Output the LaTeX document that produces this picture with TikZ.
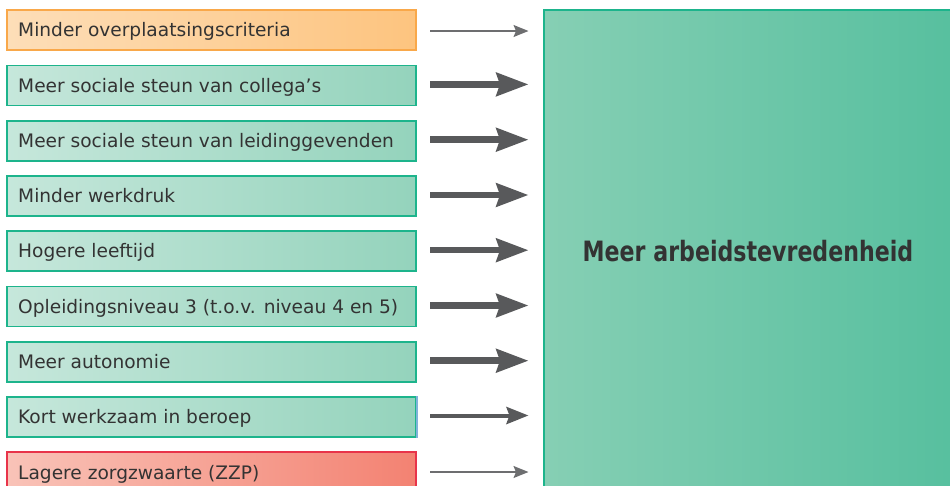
\documentclass[tikz,border=0pt]{standalone}
\usepackage{fontspec}
\setmainfont{DejaVu Sans}
\newfontfamily\bigfont{DejaVu Sans}[FakeStretch=0.79]
\usetikzlibrary{arrows.meta}
\definecolor{txt}{HTML}{333333}
\definecolor{grnL}{HTML}{C6E7DB}
\definecolor{grnR}{HTML}{94D3BC}
\definecolor{grnB}{HTML}{1DB48C}
\definecolor{orgL}{HTML}{FDDEB8}
\definecolor{orgR}{HTML}{FDC47F}
\definecolor{orgB}{HTML}{F9A84A}
\definecolor{redL}{HTML}{F9C3B8}
\definecolor{redR}{HTML}{F38272}
\definecolor{redB}{HTML}{E8344A}
\definecolor{bigL}{HTML}{86CFB4}
\definecolor{bigR}{HTML}{56BF9E}
\definecolor{bluB}{HTML}{80B2D9}
\definecolor{arrD}{HTML}{58595B}
\definecolor{arrT}{HTML}{6D6E70}
\tikzset{
  factor/.style={draw=grnB, line width=1.8pt, left color=grnL, right color=grnR, minimum width=409pt, minimum height=40pt, anchor=north west, inner sep=0pt},
  lbl/.style={anchor=base west, text=txt, font=\fontsize{18.6}{22}\selectfont, inner sep=0pt},
  thinarr/.style={draw=arrT, line width=1.4pt, -{Stealth[length=15pt,width=12pt,inset=2.5pt]}},
  medarr/.style={draw=arrD, line width=4pt, -{Stealth[length=22pt,width=17pt,inset=3pt]}},
  thickarr/.style={draw=arrD, line width=6.5pt, -{Stealth[length=32pt,width=23pt,inset=3.5pt]}},
}
\begin{document}
\begin{tikzpicture}[x=1pt,y=-1pt]
\useasboundingbox (0,0) rectangle (950,485);
\clip (0,0) rectangle (950,485);
% big box
\node[draw=grnB, line width=1.8pt, left color=bigL, right color=bigR, minimum width=420pt, minimum height=490pt, anchor=north west, inner sep=0pt] (big) at (543.3,9.3) {};
\node[text=txt, anchor=base, inner sep=0pt, font=\bigfont\bfseries\fontsize{28}{32}\selectfont] (bigt) at (748,261) {Meer arbeidstevredenheid};
% factor boxes
\node[factor, draw=orgB, left color=orgL, right color=orgR] (f1) at (6,9.3) {};
\node[factor] (f2) at (6,64.5) {};
\node[factor] (f3) at (6,119.8) {};
\node[factor] (f4) at (6,175) {};
\node[factor] (f5) at (6,230.3) {};
\node[factor] (f6) at (6,285.5) {};
\node[factor] (f7) at (6,340.8) {};
\node[factor] (f8) at (6,396) {};
\draw[bluB, line width=1.8pt] (f8.north east) -- (f8.south east);
\node[factor, draw=redB, left color=redL, right color=redR] (f9) at (6,451.3) {};
\node[lbl] (t1) at (18,36.5) {Minder overplaatsingscriteria};
\node[lbl] (t2) at (18,92) {Meer sociale steun van collega’s};
\node[lbl] (t3) at (18,147.3) {Meer sociale steun van leidinggevenden};
\node[lbl] (t4) at (18,202.5) {Minder werkdruk};
\node[lbl] (t5) at (18,257.8) {Hogere leeftijd};
\node[lbl] (t6) at (18,313) {Opleidingsniveau 3 (t.o.v. niveau 4 en 5)};
\node[lbl] (t7) at (18,368.3) {Meer autonomie};
\node[lbl] (t8) at (18,423.8) {Kort werkzaam in beroep};
\node[lbl] (t9) at (18,479) {Lagere zorgzwaarte (ZZP)};
% arrows
\coordinate (a1) at (430,31); \coordinate (b1) at (528.5,31);
\coordinate (a2) at (430,84.4); \coordinate (b2) at (528.5,84.4);
\coordinate (a3) at (430,139.7); \coordinate (b3) at (528.5,139.7);
\coordinate (a4) at (430,195); \coordinate (b4) at (528.5,195);
\coordinate (a5) at (430,250.2); \coordinate (b5) at (528.5,250.2);
\coordinate (a6) at (430,305.5); \coordinate (b6) at (528.5,305.5);
\coordinate (a7) at (430,360.7); \coordinate (b7) at (528.5,360.7);
\coordinate (a8) at (430,415.5); \coordinate (b8) at (528.5,415.5);
\coordinate (a9) at (430,472); \coordinate (b9) at (528.5,472);
\draw[thinarr] (a1) -- (b1);
\draw[thickarr] (a2) -- (b2);
\draw[thickarr] (a3) -- (b3);
\draw[thickarr] (a4) -- (b4);
\draw[thickarr] (a5) -- (b5);
\draw[thickarr] (a6) -- (b6);
\draw[thickarr] (a7) -- (b7);
\draw[medarr] (a8) -- (b8);
\draw[thinarr] (a9) -- (b9);
\end{tikzpicture}
\end{document}
